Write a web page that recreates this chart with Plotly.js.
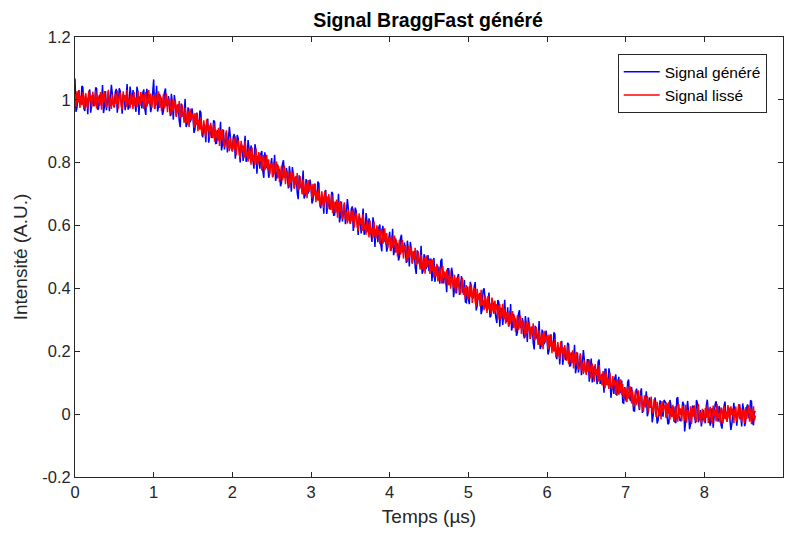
<!DOCTYPE html>
<html>
<head>
<meta charset="utf-8">
<script src="https://cdn.plot.ly/plotly-3.0.1.min.js"></script>
<style>html,body{margin:0;padding:0;background:#fff;}#chart{width:786px;height:533px;}</style>
</head>
<body>
<div id="chart"></div>
<script>
// Sampling of the time axis (µs)
const timeStart = 0;
const timeStep = 0.0125;

// Signal généré (blue), one row = 0.5 µs (40 samples)
const signalGenere = [
1.068,0.962,0.975,1.021,1.031,0.988,0.992,1.044,1.040,0.973,0.965,1.009,1.005,0.954,1.022,1.033,0.959,1.002,1.015,0.980,0.988,1.039,1.036,0.969,0.972,1.016,1.003,0.995,1.047,0.958,0.981,1.028,0.967,1.012,1.026,0.964,0.995,1.048,1.018,0.983,
0.978,1.025,1.035,0.959,0.990,1.037,1.028,0.991,0.956,1.018,1.009,0.967,1.019,1.050,0.969,0.978,1.042,0.996,0.985,1.031,1.006,0.985,0.962,1.042,1.025,0.952,1.011,1.007,0.973,1.023,1.033,0.971,0.952,1.035,1.014,0.989,1.002,0.961,0.980,1.014,
1.065,0.971,0.986,1.045,0.963,0.980,1.019,1.002,1.004,0.952,0.965,1.024,1.036,0.982,0.982,1.012,0.962,0.948,1.019,0.990,0.937,1.015,0.990,0.947,0.973,0.986,0.933,0.913,0.988,0.972,0.946,0.953,1.003,0.914,0.923,0.976,0.958,0.929,0.938,0.973,
0.947,0.895,0.906,0.950,0.959,0.914,0.916,0.966,0.960,0.891,0.881,0.923,0.918,0.865,0.931,0.940,0.864,0.905,0.916,0.879,0.886,0.935,0.930,0.861,0.862,0.904,0.889,0.879,0.930,0.839,0.860,0.905,0.842,0.885,0.897,0.833,0.863,0.914,0.882,0.845,
0.838,0.883,0.891,0.813,0.843,0.888,0.877,0.838,0.801,0.861,0.850,0.806,0.857,0.886,0.803,0.810,0.872,0.824,0.811,0.855,0.829,0.806,0.781,0.859,0.840,0.765,0.822,0.816,0.781,0.829,0.837,0.773,0.752,0.833,0.810,0.783,0.795,0.752,0.769,0.801,
0.815,0.754,0.767,0.825,0.742,0.758,0.795,0.777,0.778,0.725,0.737,0.796,0.808,0.754,0.753,0.783,0.732,0.718,0.789,0.760,0.708,0.786,0.761,0.718,0.744,0.757,0.704,0.684,0.760,0.744,0.718,0.725,0.775,0.686,0.695,0.748,0.731,0.702,0.711,0.746,
0.722,0.670,0.681,0.725,0.733,0.688,0.690,0.740,0.734,0.665,0.655,0.697,0.691,0.638,0.704,0.713,0.637,0.678,0.689,0.652,0.658,0.707,0.702,0.633,0.634,0.676,0.661,0.651,0.701,0.610,0.631,0.676,0.613,0.656,0.668,0.604,0.633,0.684,0.652,0.615,
0.608,0.653,0.661,0.583,0.612,0.657,0.646,0.607,0.570,0.630,0.619,0.575,0.625,0.654,0.571,0.578,0.640,0.592,0.579,0.623,0.596,0.573,0.548,0.626,0.607,0.532,0.589,0.583,0.547,0.595,0.603,0.539,0.518,0.599,0.576,0.549,0.560,0.517,0.534,0.566,
0.580,0.519,0.532,0.590,0.506,0.522,0.559,0.541,0.542,0.489,0.501,0.560,0.571,0.517,0.516,0.546,0.495,0.481,0.552,0.523,0.470,0.548,0.523,0.480,0.506,0.519,0.466,0.446,0.521,0.505,0.479,0.486,0.536,0.447,0.456,0.509,0.491,0.462,0.471,0.506,
0.455,0.493,0.493,0.423,0.470,0.497,0.421,0.447,0.473,0.470,0.446,0.415,0.487,0.494,0.418,0.418,0.449,0.432,0.388,0.463,0.463,0.413,0.417,0.466,0.444,0.372,0.401,0.423,0.384,0.435,0.446,0.379,0.407,0.439,0.389,0.389,0.427,0.357,0.355,0.406,
0.368,0.350,0.421,0.405,0.372,0.368,0.406,0.420,0.330,0.345,0.379,0.377,0.385,0.318,0.331,0.393,0.400,0.358,0.339,0.332,0.356,0.387,0.308,0.313,0.367,0.356,0.349,0.331,0.307,0.290,0.363,0.356,0.278,0.336,0.336,0.284,0.320,0.364,0.294,0.295,
0.340,0.279,0.292,0.350,0.266,0.282,0.319,0.301,0.302,0.249,0.261,0.320,0.331,0.277,0.276,0.306,0.255,0.241,0.312,0.283,0.230,0.308,0.283,0.240,0.266,0.279,0.226,0.206,0.281,0.265,0.239,0.246,0.296,0.207,0.216,0.269,0.251,0.222,0.231,0.266,
0.242,0.190,0.201,0.245,0.253,0.208,0.210,0.260,0.254,0.185,0.175,0.217,0.211,0.158,0.224,0.233,0.157,0.198,0.209,0.172,0.178,0.227,0.222,0.153,0.154,0.196,0.181,0.171,0.221,0.130,0.151,0.196,0.133,0.176,0.188,0.124,0.153,0.204,0.172,0.135,
0.135,0.173,0.173,0.103,0.150,0.177,0.101,0.127,0.153,0.150,0.126,0.095,0.167,0.174,0.098,0.098,0.129,0.112,0.068,0.143,0.143,0.093,0.097,0.146,0.124,0.052,0.081,0.103,0.064,0.115,0.126,0.059,0.087,0.119,0.069,0.069,0.107,0.037,0.035,0.086,
0.048,0.039,0.101,0.110,0.052,0.042,0.086,0.062,0.011,0.010,0.060,0.081,0.066,0.039,0.013,0.068,0.082,0.004,0.022,0.047,0.040,0.073,-0.007,0.006,0.053,0.046,0.036,-0.026,-0.004,0.035,0.053,0.017,-0.030,-0.020,0.030,0.044,0.016,-0.001,-0.008,0.045,
0.040,0.035,-0.005,-0.032,-0.028,0.045,0.028,-0.002,0.014,0.024,-0.024,-0.028,0.049,0.054,-0.003,-0.019,-0.021,-0.002,0.039,0.032,-0.055,-0.015,0.017,0.042,0.004,-0.048,-0.032,0.007,0.027,0.023,-0.011,-0.029,0.045,0.035,-0.026,-0.011,0.013,-0.039,-0.003,0.014,
-0.015,-0.029,0.027,0.046,0.008,-0.018,-0.037,0.005,0.019,-0.043,-0.004,0.032,0.041,-0.007,-0.024,0.026,0.011,-0.035,-0.046,0.011,0.033,0.040,-0.009,-0.024,0.022,0.019,-0.017,-0.050,-0.030,0.013,0.036,-0.002,0.001,-0.037,-0.013,0.029,0.029,-0.014,-0.039,0.034,
0.012,-0.038,-0.025,0.021,0.031,-0.012,-0.008,0.044,0.040,-0.027,-0.035,0.009,0.005
];

// Signal lissé (red), one row = 0.5 µs (40 samples)
const signalLisse = [
1.018,0.978,1.027,0.991,1.031,0.974,1.012,0.983,1.024,0.970,1.008,1.021,0.986,0.972,1.029,0.995,1.016,0.976,1.026,0.989,0.980,1.030,0.973,1.014,1.003,0.981,1.025,0.969,1.020,0.992,1.028,0.984,0.975,1.011,1.032,0.979,1.006,0.971,1.017,0.987,
0.975,1.019,0.988,1.030,0.972,1.009,1.023,0.982,0.969,1.027,0.994,1.015,0.977,1.032,0.986,1.004,0.973,1.021,1.011,0.970,1.026,0.984,1.007,0.976,1.029,0.990,0.981,1.025,0.997,1.018,0.971,1.013,1.024,0.978,0.992,1.031,0.983,1.020,0.974,1.010,
1.012,0.971,1.022,0.985,1.005,1.027,0.974,1.014,0.964,1.005,1.019,0.973,0.987,1.020,0.961,1.000,1.004,0.972,0.951,1.003,0.964,0.983,1.000,0.946,0.985,0.960,0.996,0.942,0.947,0.985,0.948,0.927,0.974,0.954,0.926,0.965,0.914,0.972,0.935,0.954,
0.953,0.911,0.958,0.920,0.959,0.900,0.936,0.905,0.944,0.888,0.924,0.935,0.899,0.883,0.938,0.902,0.921,0.879,0.927,0.888,0.878,0.926,0.867,0.906,0.893,0.869,0.911,0.853,0.903,0.873,0.907,0.861,0.850,0.884,0.903,0.848,0.874,0.837,0.881,0.849,
0.835,0.877,0.844,0.884,0.825,0.860,0.872,0.829,0.814,0.870,0.835,0.854,0.815,0.868,0.820,0.836,0.803,0.849,0.837,0.794,0.849,0.805,0.826,0.793,0.844,0.803,0.792,0.834,0.805,0.824,0.775,0.815,0.824,0.776,0.788,0.825,0.776,0.811,0.763,0.797,
0.797,0.754,0.803,0.764,0.784,0.804,0.750,0.789,0.738,0.778,0.791,0.744,0.759,0.791,0.732,0.771,0.774,0.742,0.721,0.773,0.735,0.754,0.771,0.717,0.756,0.731,0.767,0.713,0.719,0.757,0.720,0.699,0.746,0.726,0.698,0.737,0.687,0.745,0.708,0.727,
0.728,0.686,0.733,0.695,0.733,0.674,0.710,0.679,0.718,0.662,0.698,0.709,0.672,0.656,0.711,0.675,0.694,0.652,0.700,0.661,0.650,0.698,0.639,0.678,0.665,0.641,0.683,0.625,0.674,0.644,0.678,0.632,0.621,0.655,0.674,0.619,0.644,0.607,0.651,0.619,
0.605,0.647,0.614,0.654,0.594,0.629,0.641,0.598,0.583,0.639,0.604,0.623,0.583,0.636,0.588,0.604,0.571,0.617,0.605,0.562,0.616,0.572,0.593,0.560,0.611,0.570,0.559,0.601,0.571,0.590,0.541,0.581,0.590,0.542,0.554,0.591,0.541,0.576,0.528,0.562,
0.562,0.519,0.568,0.529,0.548,0.568,0.514,0.553,0.502,0.542,0.555,0.508,0.522,0.554,0.495,0.534,0.537,0.505,0.484,0.536,0.497,0.516,0.533,0.479,0.518,0.493,0.529,0.475,0.480,0.518,0.481,0.460,0.507,0.487,0.459,0.498,0.447,0.505,0.468,0.487,
0.488,0.446,0.493,0.455,0.493,0.434,0.470,0.439,0.478,0.422,0.458,0.469,0.432,0.416,0.471,0.435,0.454,0.412,0.460,0.421,0.410,0.458,0.399,0.438,0.425,0.401,0.443,0.385,0.434,0.404,0.438,0.392,0.381,0.415,0.434,0.379,0.404,0.367,0.411,0.379,
0.365,0.407,0.374,0.414,0.354,0.389,0.401,0.358,0.343,0.399,0.364,0.383,0.343,0.396,0.348,0.364,0.331,0.377,0.365,0.322,0.376,0.332,0.353,0.320,0.371,0.330,0.319,0.361,0.331,0.350,0.301,0.341,0.350,0.302,0.314,0.351,0.301,0.336,0.288,0.322,
0.322,0.279,0.328,0.289,0.308,0.328,0.274,0.313,0.262,0.302,0.315,0.268,0.282,0.314,0.255,0.294,0.297,0.265,0.244,0.296,0.257,0.276,0.293,0.239,0.278,0.253,0.289,0.235,0.240,0.278,0.241,0.220,0.267,0.247,0.219,0.258,0.207,0.265,0.228,0.247,
0.248,0.206,0.253,0.215,0.253,0.194,0.230,0.199,0.238,0.182,0.218,0.229,0.192,0.176,0.231,0.195,0.214,0.172,0.220,0.181,0.170,0.218,0.159,0.198,0.185,0.161,0.203,0.145,0.194,0.164,0.198,0.152,0.141,0.175,0.194,0.139,0.164,0.127,0.171,0.139,
0.125,0.167,0.134,0.174,0.114,0.149,0.161,0.118,0.103,0.159,0.124,0.143,0.103,0.156,0.108,0.124,0.091,0.137,0.125,0.082,0.136,0.092,0.113,0.080,0.131,0.090,0.079,0.121,0.091,0.110,0.061,0.101,0.110,0.062,0.074,0.111,0.061,0.096,0.048,0.082,
0.082,0.039,0.088,0.049,0.068,0.088,0.034,0.074,0.023,0.063,0.076,0.029,0.043,0.076,0.017,0.056,0.059,0.028,0.007,0.060,0.021,0.041,0.058,0.005,0.044,0.020,0.056,0.003,0.009,0.048,0.011,-0.009,0.039,0.020,-0.007,0.033,-0.017,0.042,0.006,0.026,
0.028,-0.012,0.036,0.000,0.039,-0.018,0.019,-0.010,0.030,-0.024,0.013,0.026,-0.010,-0.024,0.032,-0.002,0.018,-0.022,0.027,-0.010,-0.020,0.030,-0.027,0.014,0.003,-0.019,0.025,-0.031,0.020,-0.008,0.028,-0.016,-0.025,0.011,0.032,-0.021,0.006,-0.029,0.017,-0.013,
-0.025,0.019,-0.012,0.030,-0.028,0.009,0.023,-0.018,-0.031,0.027,-0.006,0.015,-0.023,0.032,-0.014,0.004,-0.027,0.021,0.011,-0.030,0.026,-0.016,0.007,-0.024,0.029,-0.010,-0.019,0.025,-0.003,0.018,-0.029,0.013,0.024,-0.022,-0.008,0.031,-0.017,0.020,-0.026,0.010,
0.012,-0.029,0.022,-0.015,0.006,0.028,-0.024,0.017,-0.032,0.010,0.025,-0.020,-0.004
];

const seriesNames = ["Signal généré", "Signal lissé"];
const xTickVals = [0,1,2,3,4,5,6,7,8,9];
const xTickText = ["0","1","2","3","4","5","6","7","8","9"];
const yTickVals = [-0.2,0,0.2,0.4,0.6,0.8,1,1.2];
const yTickText = ["-0.2","0","0.2","0.4","0.6","0.8","1","1.2"];

const axisColor = "#262626";
const font = "Liberation Sans, Arial, sans-serif";

const traces = [
  {type:"scatter", mode:"lines", name:seriesNames[0], x0:timeStart, dx:timeStep, y:signalGenere,
   line:{color:"#0000ff", width:1.5}},
  {type:"scatter", mode:"lines", name:seriesNames[1], x0:timeStart, dx:timeStep, y:signalLisse,
   line:{color:"#ff0000", width:1.5}}
];

const axisCommon = {
  showline:true, mirror:"ticks", linecolor:axisColor, linewidth:1,
  ticks:"inside", ticklen:5, tickwidth:1, tickcolor:axisColor,
  showgrid:false, zeroline:false, automargin:false,
  tickfont:{family:font, size:16.5, color:axisColor}
};

const layout = {
  width:786, height:533,
  margin:{l:75, r:3, t:37, b:56},
  paper_bgcolor:"#ffffff", plot_bgcolor:"#ffffff",
  showlegend:true,
  hovermode:false,
  title:{text:"<b>Signal BraggFast généré</b>", font:{family:font, size:19.5, color:"#000000"},
         x:0.5446, xanchor:"center", y:0.962, yanchor:"middle"},
  xaxis:Object.assign({}, axisCommon, {
    range:[0,9], tickmode:"array", tickvals:xTickVals, ticktext:xTickText,
    title:{text:"Temps (µs)", font:{family:font, size:19, color:axisColor}, standoff:9}
  }),
  yaxis:Object.assign({}, axisCommon, {
    range:[-0.2,1.2], tickmode:"array", tickvals:yTickVals, ticktext:yTickText,
    title:{text:"Intensité (A.U.)", font:{family:font, size:19, color:axisColor}, standoff:9}
  }),
  legend:{x:0.977, xanchor:"right", y:0.961, yanchor:"top",
    bgcolor:"#ffffff", bordercolor:axisColor, borderwidth:1, itemwidth:36,
    font:{family:font, size:15.5, color:"#000000"}, tracegroupgap:0}
};

Plotly.newPlot("chart", traces, layout, {displayModeBar:false, staticPlot:true});
</script>
</body>
</html>
